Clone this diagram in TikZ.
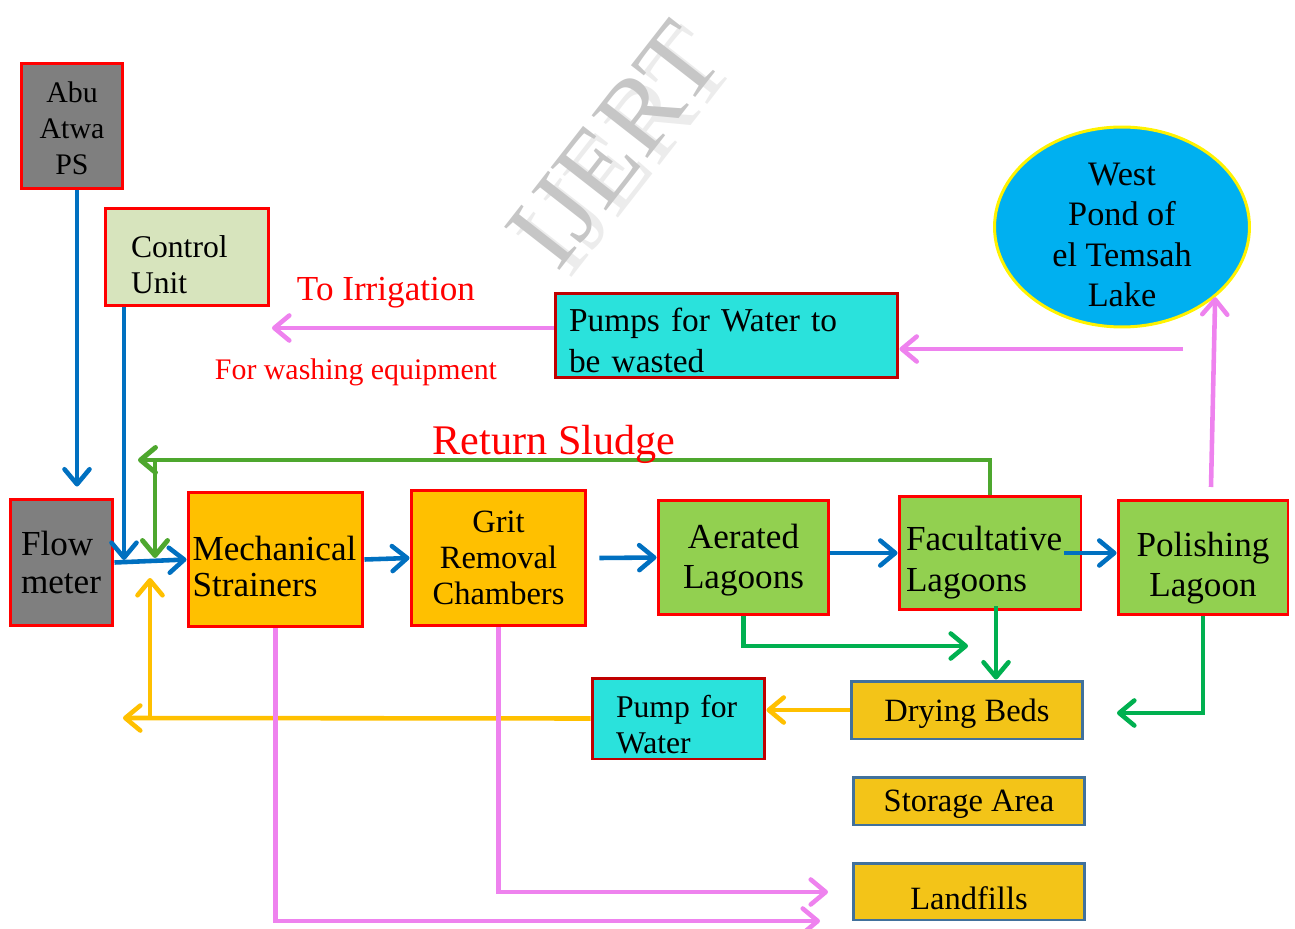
\documentclass[tikz,border=0pt]{standalone}
\usepackage{fontspec}
\setmainfont{Liberation Serif}
\usetikzlibrary{arrows.meta,shapes.geometric}

\definecolor{psgray}{HTML}{7F7F7F}
\definecolor{ctrlgreen}{HTML}{D7E4BD}
\definecolor{amber}{HTML}{FFC000}
\definecolor{lagoon}{HTML}{92D050}
\definecolor{pumpcyan}{HTML}{2AE2DC}
\definecolor{darkred}{HTML}{C00000}
\definecolor{bedgold}{HTML}{F3C418}
\definecolor{bedblue}{HTML}{41719C}
\definecolor{lakeblue}{HTML}{00B0F0}
\definecolor{pipeblue}{HTML}{0070C0}
\definecolor{sludgegreen}{HTML}{4EA72E}
\definecolor{drygreen}{HTML}{00B050}
\definecolor{wastepink}{HTML}{EE82EE}

% strut that pushes a box text a bit down
\newcommand{\lowstrut}[1]{\rule{0pt}{#1}}

\begin{document}
\begin{tikzpicture}[x=0.02cm, y=-0.02cm, >={Straight Barb[length=0.3cm,width=0.5cm,round]},
  unit/.style={draw=red, line width=1.7pt, inner xsep=0pt, inner ysep=0pt, align=center},
  pump/.style={draw=darkred, line width=1.7pt, fill=pumpcyan, inner xsep=0pt, inner ysep=0pt, align=left},
  bedbox/.style={draw=bedblue, line width=1.7pt, fill=bedgold, inner sep=0pt, minimum width=4.64cm, text depth=0pt, font=\fontsize{18.5}{21}\selectfont},
  note/.style={text=red, inner sep=0pt},
  pipe/.style={->, line width=2.6pt, pipeblue},
  sludgeline/.style={->, line width=2.8pt, sludgegreen},
  dryline/.style={->, line width=2.6pt, drygreen},
  waterline/.style={->, line width=2.6pt, amber},
  wasteline/.style={->, line width=2.6pt, wastepink}]
  \useasboundingbox (0,0) rectangle (1295,929);

  % 1. watermark
  \node[rotate=52, text=gray!15, font=\fontsize{61}{63}\selectfont] (wmb) at (626,152) {IJERT};
  \node[rotate=52, text=gray!45, font=\fontsize{61}{63}\selectfont] (wm) at (614,145) {IJERT};

  % 2. treatment units
  \node[unit, fill=psgray, minimum width=2.04cm, minimum height=2.52cm, font=\fontsize{17}{20.5}\selectfont] (abu) at (72,126) {\lowstrut{14pt}Abu\\Atwa\\PS};
  \node[unit, fill=ctrlgreen, minimum width=3.28cm, minimum height=1.96cm, text width=2.24cm, align=left, font=\fontsize{18}{20.5}\selectfont] (ctrl) at (187,257) {\lowstrut{21pt}Control\\Unit};
  \node[unit, fill=psgray, minimum width=2.06cm, minimum height=2.54cm, text width=1.62cm, align=left, font=\fontsize{20}{22}\selectfont] (flow) at (61.5,562.5) {Flow\\meter};
  \node[unit, fill=amber, minimum width=3.5cm, minimum height=2.7cm, text width=3.32cm, align=left, font=\fontsize{20}{20.5}\selectfont] (mech) at (275.5,559.5) {\lowstrut{22pt}Mechanical\\Strainers};
  \node[unit, fill=amber, minimum width=3.5cm, minimum height=2.72cm, font=\fontsize{18.5}{20.5}\selectfont] (grit) at (498.5,558) {Grit\\Removal\\Chambers};
  \node[unit, fill=lagoon, minimum width=3.42cm, minimum height=2.3cm, font=\fontsize{20}{23}\selectfont] (aer) at (743.5,557.5) {\lowstrut{17pt}Aerated\\Lagoons};
  \node[unit, fill=lagoon, minimum width=3.64cm, minimum height=2.28cm, text width=3.36cm, align=left, font=\fontsize{20}{23}\selectfont] (fac) at (990,553) {\lowstrut{25pt}Facultative\\Lagoons};
  \node[unit, fill=lagoon, minimum width=3.4cm, minimum height=2.3cm, font=\fontsize{20}{23}\selectfont] (pol) at (1203,557.5) {\lowstrut{26pt}Polishing\\Lagoon};

  % 3. lake, pumps and sludge handling
  \node[ellipse, draw=yellow, line width=1.7pt, fill=lakeblue, minimum width=5.1cm, minimum height=4cm] (lake) at (1122,227) {};
  \node[align=center, font=\fontsize{19.5}{23}\selectfont] (laketxt) at ([yshift=-0.16cm]lake) {West\\Pond of\\el Temsah\\Lake};
  \node[pump, minimum width=6.86cm, minimum height=1.7cm, text width=6.3cm, font=\fontsize{19}{23}\selectfont] (pwaste) at (726.5,335.5) {\lowstrut{19pt}Pumps for Water to\\be wasted};
  \node[pump, minimum width=3.46cm, minimum height=1.62cm, text width=2.5cm, font=\fontsize{18}{20.5}\selectfont] (pwater) at (678.5,718.5) {\lowstrut{20pt}Pump for\\Water};
  \node[bedbox, minimum height=1.16cm] (dry) at (967,710) {Drying Beds};
  \node[bedbox, minimum height=0.96cm] (store) at (969,801) {Storage Area};
  \node[bedbox, minimum height=1.14cm] (land) at (969,891.5) {\lowstrut{21pt}Landfills};

  % 4. free ends of the connectors
  \coordinate (abuout) at ([xshift=0.1cm]abu.south);
  \coordinate (cin) at (124,560);
  \coordinate (rs) at (138,460);
  \coordinate (rsin) at (155,558);
  \coordinate (drya) at (968,646);
  \coordinate (facdrop) at (996,606);
  \coordinate (dryb) at (1117,713);
  \coordinate (back) at (123,718);
  \coordinate (backup) at (150,578);
  \coordinate (irr) at (272,328);
  \coordinate (lakeout) at (1183,349);
  \coordinate (polup) at (1211,487);
  \coordinate (landa) at (820,921);
  \coordinate (landb) at (828,892);

  % 5. main flow
  \draw[pipe, shorten >=0.22cm] (abuout) -- (abuout |- flow.north);
  \draw[pipe] (ctrl.south -| cin) -- (cin);
  \draw[pipe] (flow.east) -- (mech.west);
  \draw[pipe] (mech.east) -- (grit.west);
  \draw[pipe] ([xshift=0.24cm]grit.east) -- (aer.west);
  \draw[pipe] (aer.east |- fac.west) -- (fac.west);
  \draw[pipe] ([xshift=-0.36cm]fac.east) -- (pol.west |- fac.east);

  % 6. return sludge
  \draw[sludgeline] (fac.north) |- (rs);
  \draw[sludgeline] (rsin |- rs) -- (rsin);

  % 7. sludge to drying beds
  \draw[dryline] (aer.south) |- (drya);
  \draw[dryline] (facdrop) -- (facdrop |- dry.north);
  \draw[dryline] (pol.south) |- (dryb);

  % 8. water back to the inlet
  \draw[waterline] (dry.west) -- (dry.west -| pwater.east);
  \draw[waterline] (pwater.west) -- (back);
  \draw[waterline] (backup |- pwater.west) -- (backup);

  % 9. treated water and screenings
  \draw[wasteline] (pwaste.west |- irr) -- (irr);
  \draw[wasteline] (lakeout) -- (lakeout -| pwaste.east);
  \draw[wasteline] (polup) -- (lake.-37);
  \draw[wasteline] (mech.south) |- (landa);
  \draw[wasteline] (grit.south) |- (landb);

  % 10. labels
  \node[note, font=\fontsize{20}{24}\selectfont] (irrtxt) at (386,293) {To Irrigation};
  \node[note, font=\fontsize{17}{20}\selectfont] (washtxt) at (356,372) {For washing equipment};
  \node[note, font=\fontsize{24}{28}\selectfont] (rstxt) at (554,444) {Return Sludge};
\end{tikzpicture}
\end{document}
